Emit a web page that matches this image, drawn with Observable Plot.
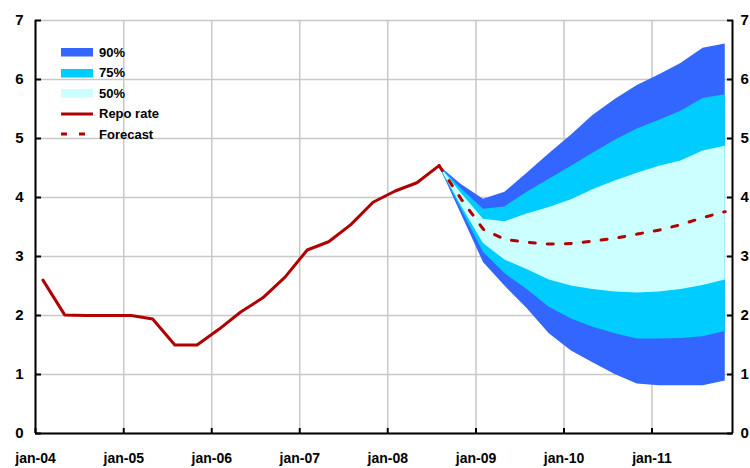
<!DOCTYPE html>
<html><head><meta charset="utf-8">
<script src="https://cdn.jsdelivr.net/npm/d3@7"></script>
<script src="https://cdn.jsdelivr.net/npm/@observablehq/plot@0.6"></script>
<style>
body{margin:0;background:#fff;overflow:hidden;font-family:"Liberation Sans",Arial,sans-serif;}
#wrap{position:relative;width:750px;height:468px;}
#legend{position:absolute;left:61px;top:42px;font-weight:bold;font-size:13px;color:#000;}
.item{display:flex;align-items:center;height:20.5px;white-space:nowrap;}
.item svg{margin-right:3px;display:block}
</style></head><body><div id="wrap"><div id="legend"></div></div>
<script>
// Historical repo rate (quarterly averages)
const histQuarters = ["2004Q1","2004Q2","2004Q3","2004Q4","2005Q1","2005Q2","2005Q3","2005Q4",
  "2006Q1","2006Q2","2006Q3","2006Q4","2007Q1","2007Q2","2007Q3","2007Q4","2008Q1","2008Q2","2008Q3"];
const repoRate = [2.60,2.01,2.00,2.00,2.00,1.94,1.50,1.50,1.77,2.06,2.30,2.65,3.11,3.25,3.54,3.92,4.11,4.25,4.54];

// Forecast with uncertainty bands
const fcQuarters = ["2008Q3","2008Q4","2009Q1","2009Q2","2009Q3","2009Q4","2010Q1","2010Q2",
  "2010Q3","2010Q4","2011Q1","2011Q2","2011Q3","2011Q4"];
const forecast = [4.54,3.97,3.46,3.29,3.24,3.21,3.22,3.26,3.31,3.38,3.45,3.54,3.66,3.76];
const upper90  = [4.54,4.22,3.97,4.09,4.41,4.74,5.06,5.39,5.66,5.90,6.08,6.27,6.53,6.60];
const upper75  = [4.54,4.15,3.80,3.84,4.09,4.31,4.53,4.75,4.97,5.16,5.31,5.46,5.68,5.74];
const upper50  = [4.54,4.07,3.63,3.59,3.72,3.83,3.96,4.13,4.28,4.41,4.53,4.62,4.79,4.87];
const lower50  = [4.54,3.86,3.22,2.94,2.78,2.60,2.50,2.44,2.40,2.38,2.40,2.44,2.51,2.60];
const lower75  = [4.54,3.80,3.07,2.71,2.44,2.14,1.94,1.80,1.69,1.60,1.60,1.61,1.64,1.73];
const lower90  = [4.54,3.72,2.90,2.50,2.12,1.69,1.40,1.20,1.00,0.84,0.81,0.81,0.81,0.89];

const xTickYears = [2004,2005,2006,2007,2008,2009,2010,2011];
const xTickLabels = ["jan-04","jan-05","jan-06","jan-07","jan-08","jan-09","jan-10","jan-11"];
const yTicks = [0,1,2,3,4,5,6,7];
const yTickLabels = ["0","1","2","3","4","5","6","7"];

const legendLabels = ["90%","75%","50%","Repo rate","Forecast"];
const colors = {b90:"#3366ff", b75:"#00ccff", b50:"#ccffff", repo:"#b00000"};

const qDate = q => { const [y, n] = q.split("Q"); return new Date(Date.UTC(+y, (+n - 1) * 3 + 1, 1)); };
const hist = histQuarters.map((q, i) => ({date: qDate(q), v: repoRate[i]}));
const fc = fcQuarters.map((q, i) => ({date: qDate(q), f: forecast[i],
  u90: upper90[i], u75: upper75[i], u50: upper50[i], l50: lower50[i], l75: lower75[i], l90: lower90[i]}));
const xTicks = xTickYears.map(y => new Date(Date.UTC(y, 0, 1)));
const xDomain = [new Date(Date.UTC(2004, 0, 1)), new Date(Date.UTC(2011, 11, 1))];
const labelOf = d => xTickLabels[xTickYears.indexOf(d.getUTCFullYear())];
const yLabelOf = d => yTickLabels[yTicks.indexOf(d)];

const grid = {stroke: "#c8c8c8", strokeOpacity: 1, strokeWidth: 1.5};

const chart = Plot.plot({
  width: 750, height: 468,
  marginLeft: 35, marginRight: 18, marginTop: 20, marginBottom: 35,
  style: {fontFamily: "'Liberation Sans', Arial, sans-serif", fontSize: "14px", fontWeight: "bold", color: "#000", background: "transparent", overflow: "visible"},
  x: {type: "utc", domain: xDomain},
  y: {domain: [0, 7]},
  marks: [
    Plot.gridY(yTicks, grid),
    Plot.gridX(xTicks, grid),
    Plot.areaY(fc, {x: "date", y1: "l90", y2: "u90", fill: colors.b90}),
    Plot.areaY(fc, {x: "date", y1: "l75", y2: "u75", fill: colors.b75}),
    Plot.areaY(fc, {x: "date", y1: "l50", y2: "u50", fill: colors.b50}),
    Plot.line(fc, {x: "date", y: "f", stroke: colors.repo, strokeWidth: 3, strokeDasharray: "6 12"}),
    Plot.line(hist, {x: "date", y: "v", stroke: colors.repo, strokeWidth: 3}),
    // inward ticks
    Plot.axisY(yTicks, {anchor: "left", tickSize: 6, dx: 6, fill: "none", stroke: "#000", strokeWidth: 2, label: null}),
    Plot.axisY(yTicks, {anchor: "right", tickSize: 6, dx: -6, fill: "none", stroke: "#000", strokeWidth: 2, label: null}),
    Plot.axisX(xTicks, {anchor: "bottom", tickSize: 5, dy: -5, fill: "none", stroke: "#000", strokeWidth: 2, label: null}),
    // labels
    Plot.axisY(yTicks, {anchor: "left", tickSize: 0, tickPadding: 12, label: null, fill: "#000", fontSize: 15, tickFormat: yLabelOf}),
    Plot.axisY(yTicks, {anchor: "right", tickSize: 0, tickPadding: 8, label: null, fill: "#000", fontSize: 15, tickFormat: yLabelOf}),
    Plot.axisX(xTicks, {anchor: "bottom", tickSize: 0, tickPadding: 20, label: null, fill: "#000", tickFormat: labelOf, letterSpacing: "1px"}),
    // axis lines
    Plot.ruleY([0], {stroke: "#000", strokeWidth: 2}),
    Plot.ruleX([xDomain[0]], {stroke: "#000", strokeWidth: 2}),
    Plot.ruleX([xDomain[1]], {stroke: "#000", strokeWidth: 2})
  ]
});
document.getElementById("wrap").prepend(chart);

// legend
const leg = document.getElementById("legend");
const swatches = [
  `<rect x="0" y="2" width="32" height="8.5" fill="${colors.b90}"/>`,
  `<rect x="0" y="2" width="32" height="8.5" fill="${colors.b75}"/>`,
  `<rect x="0" y="2" width="32" height="8.5" fill="${colors.b50}"/>`,
  `<line x1="0" x2="32" y1="6" y2="6" stroke="${colors.repo}" stroke-width="3"/>`,
  `<line x1="0" x2="32" y1="6" y2="6" stroke="${colors.repo}" stroke-width="3" stroke-dasharray="6 12"/>`
];
legendLabels.forEach((lab, i) => {
  const d = document.createElement("div");
  d.className = "item";
  d.innerHTML = `<svg width="35" height="12">${swatches[i]}</svg><span>${lab}</span>`;
  leg.appendChild(d);
});
</script></body></html>
